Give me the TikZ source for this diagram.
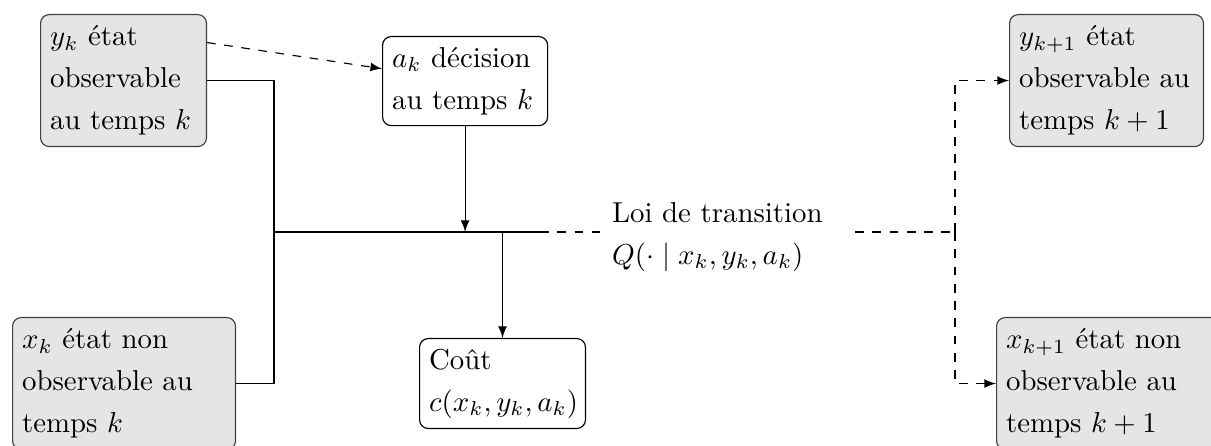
\documentclass[tikz,border=0pt]{standalone}
\usepackage{fontspec}
\usetikzlibrary{arrows}
\begin{document}
\begin{tikzpicture}[x=0.347pt,y=-0.347pt, >=latex,
  box/.style={draw=black, rounded corners=3pt, align=left, anchor=north west,
    font=\fontsize{10}{14.6}\selectfont, fill=white},
  obs/.style={box, draw=black!75, fill=gray!20},
  wire/.style={draw=black, line width=0.4pt},
  dwire/.style={wire, dashed}]
\useasboundingbox (0,0) rectangle (1211,446);

\node[obs, text width=50.9pt, minimum height=45.8pt] (yk) at (40,14)
  {$y_k$ état\\observable\\au temps $k$};
\node[box, text width=50.6pt, minimum height=30.9pt] (ak) at (382,36)
  {$a_k$ décision\\au temps $k$};
\node[box, text width=50.9pt, minimum height=31.2pt] (cout) at (419,338)
  {Coût\\$c(x_k,y_k,a_k)$};
\node[obs, text width=70.7pt, minimum height=45.8pt] (xk) at (12,317)
  {$x_k$ état non\\observable au\\temps $k$};
\node[obs, text width=60.6pt, minimum height=45.8pt] (yk1) at (1009,14)
  {$y_{k+1}$ état\\observable au\\temps $k+1$};
\node[obs, text width=70.7pt, minimum height=45.8pt] (xk1) at (996,317)
  {$x_{k+1}$ état non\\observable au\\temps $k+1$};
\node[anchor=west, align=left, font=\fontsize{10}{14.6}\selectfont] (loi) at (602,237)
  {Loi de transition\\$Q(\cdot\mid x_k,y_k,a_k)$};

\coordinate (busL) at (274,232);
\coordinate (busR) at (540,232);
\coordinate (busD) at (600,232);
\coordinate (rS) at (855,232);
\coordinate (rJ) at (955,232);

% left wiring
\path[wire] (yk.east) -| (busL) |- (xk.east);
\path[wire] (busL) -- (busR);
\path[dwire] (busR) -- (busD);
\draw[wire, ->] (ak.south) -- (ak.south |- busL);
\draw[wire, ->] (cout.north |- busL) -- (cout.north);
\draw[dwire, ->] ([yshift=13.2pt]yk.east) -- ([yshift=4.3pt]ak.west);

% right wiring
\path[dwire] (rS) -- (rJ);
\draw[dwire, ->] (rJ) |- (yk1.west);
\draw[dwire, ->] (rJ) |- (xk1.west);
\end{tikzpicture}
\end{document}
